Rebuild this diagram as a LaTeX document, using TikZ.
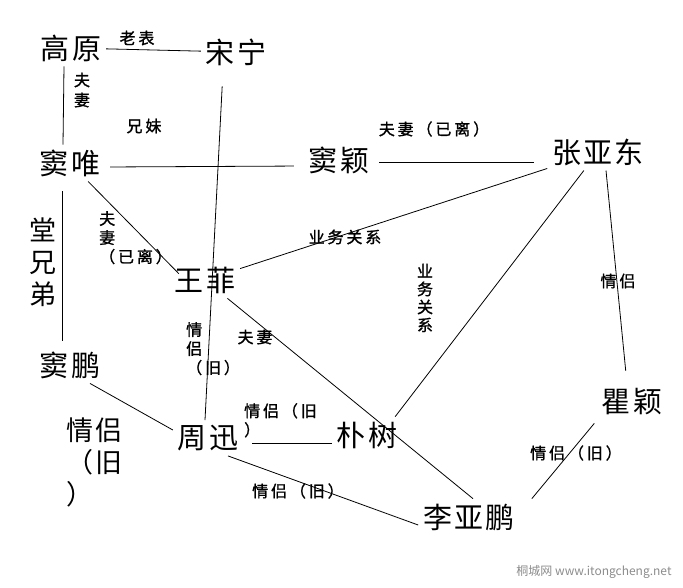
\documentclass[tikz,border=0pt]{standalone}
\usepackage{fontspec}
\setmainfont{Noto Sans CJK SC}
\newfontfamily\personfont{Noto Sans CJK SC}[LetterSpace=8]
\newfontfamily\relfont{Noto Sans CJK SC}[LetterSpace=18, FakeBold=1.2]
\usepackage{tikz}

\begin{document}
\begin{tikzpicture}[x=1pt, y=-1pt,
  person/.style={font=\personfont\fontsize{29}{31}\selectfont, inner sep=0pt, outer sep=5pt},
  rel/.style={font=\relfont\fontsize{16}{19}\selectfont, inner sep=0pt, align=center},
  relv/.style={rel, align=left},
  bigrel/.style={font=\personfont\fontsize{27}{32}\selectfont, inner sep=0pt, align=left},
  ln/.style={draw=black, line width=0.8pt}]
\useasboundingbox (0,0) rectangle (683,587);
\node[person] (gaoyuan) at (71,48) {高原};
\node[person] (songning) at (236,52) {宋宁};
\node[person] (douwei) at (70,163) {窦唯};
\node[person] (douying) at (339,160) {窦颖};
\node[person] (zhang) at (598,152) {张亚东};
\node[person] (wangfei) at (205,280) {王菲};
\node[person] (doupeng) at (70,365) {窦鹏};
\node[person] (zhouxun) at (208,438) {周迅};
\node[person] (pushu) at (367,435) {朴树};
\node[person] (quying) at (632,402) {瞿颖};
\node[person] (liyapeng) at (469,517) {李亚鹏};
\draw[ln] (gaoyuan) -- (songning);
\draw[ln] ([xshift=-7pt]gaoyuan.south) -- ([xshift=-7pt]douwei.north);
\draw[ln, shorten <=16pt] ([xshift=-13pt]songning.south) -- ([xshift=-3pt]zhouxun.north);
\draw[ln, shorten <=5pt, shorten >=10pt] ([yshift=-4pt]douwei.east) -- ([yshift=-6pt]douying.west);
\draw[ln, shorten <=5pt, shorten >=13pt] ([yshift=-2pt]douying.east) -- ([yshift=-10pt]zhang.west);
\draw[ln] (douwei) -- ([xshift=9pt,yshift=-12pt]wangfei.north west);
\draw[ln] (wangfei) -- (zhang);
\draw[ln] (zhang) -- ([xshift=-7pt]pushu.north east);
\draw[ln, shorten >=13pt] ([xshift=8pt]zhang.south) -- ([xshift=-5pt]quying.north);
\draw[ln] (wangfei) -- ([xshift=4pt]liyapeng.north);
\draw[ln, shorten <=10pt, shorten >=6pt] ([xshift=-8pt]douwei.south) -- ([xshift=-8pt]doupeng.north);
\draw[ln] ([xshift=20pt]doupeng.south) -- ([yshift=8pt]zhouxun.west);
\draw[ln, shorten <=9pt] ([yshift=-5pt]zhouxun.east) -- ([yshift=-8pt]pushu.west);
\draw[ln] ([xshift=20pt]zhouxun.south) -- ([yshift=-8pt]liyapeng.west);
\draw[ln, shorten >=4pt] ([xshift=12pt]liyapeng.north east) -- (quying.south west);
\node[rel] (laobiao) at (137,38) {老表};
\node[rel, font=\relfont\fontsize{16}{20}\selectfont] (fuqi1) at (82,90) {夫\\妻};
\node[rel] (xiongmei) at (144,126) {兄妹};
\node[rel] (fuqi2) at (434,129) {夫妻（已离）};
\node[rel] (yewu1) at (345,237) {业务关系};
\node[rel, font=\relfont\fontsize{16}{18}\selectfont] (yewu2) at (425,298) {业\\务\\关\\系};
\node[rel] (qinglv1) at (618,281) {情侣};
\node[bigrel, align=center] (tangxiongdi) at (43,262) {堂\\兄\\弟};
\node[relv, anchor=north west] (fuqi3) at (99,211) {夫\\妻\\（已离）};
\node[relv, anchor=north west] (qinglv2) at (186,322) {情\\侣\\（旧）};
\node[rel] (fuqi4) at (255,337) {夫妻};
\node[bigrel, anchor=north west] (qinglv3) at (66,418) {情侣\\（旧\\）};
\node[relv, anchor=north west] (qinglv4) at (244,403) {情侣（旧\\）};
\node[rel] (qinglv5) at (298,491) {情侣（旧）};
\node[rel] (qinglv6) at (576,453) {情侣（旧）};
\node[font=\fontsize{12}{14}\selectfont, text=black!45] (mark) at (594,572) {桐城网 www.itongcheng.net};
\end{tikzpicture}
\end{document}
